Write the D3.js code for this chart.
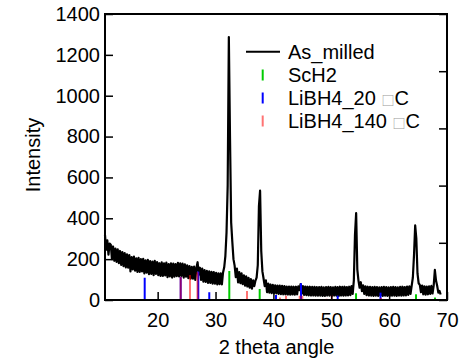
<!DOCTYPE html>
<html><head><meta charset="utf-8">
<script src="https://cdn.jsdelivr.net/npm/d3@7"></script>
<style>
body{margin:0;background:#fff}
text{font-family:"Liberation Sans",Arial,Helvetica,sans-serif}
</style>
</head><body>
<svg id="chart" width="470" height="363"></svg>
<script>
// ---- data ----
const scanStart = 10.9;   // 2theta of first count
const scanStep = 0.2;     // 2theta step
const counts = [
  318,246,292,222,276,   // 10.9
  270,200,262,192,252,   // 11.9
  186,248,180,240,172,   // 12.9
  234,166,230,160,224,   // 13.9
  158,220,140,210,150,   // 14.9
  212,144,204,138,206,   // 15.9
  138,200,140,202,130,   // 16.9
  194,134,196,126,190,   // 17.9
  128,188,122,192,128,   // 18.9
  186,122,180,118,184,   // 19.9
  118,180,120,183,112,   // 20.9
  176,116,180,110,178,   // 21.9
  114,176,117,182,116,   // 22.9
  180,118,178,110,174,   // 23.9
  114,170,107,166,105,   // 24.9
  162,104,164,98,158,    // 25.9
  185,124,158,98,154,    // 26.9
  90,146,89,143,84,      // 27.9
  140,84,138,80,136,     // 28.9
  80,133,76,131,78,      // 29.9
  130,77,135,160,215,    // 30.9
  330,560,1287,800,380,  // 31.9
  285,200,168,112,154,   // 32.9
  86,136,82,130,78,      // 33.9
  121,70,116,66,109,     // 34.9
  60,102,56,96,68,       // 35.9
  95,110,170,460,535,    // 36.9
  240,140,105,68,96,     // 37.9
  38,80,36,76,34,        // 38.9
  74,33,72,32,71,        // 39.9
  30,70,29,69,28,        // 40.9
  68,28,66,27,66,        // 41.9
  26,66,27,65,26,        // 42.9
  65,28,67,48,78,        // 43.9
  31,68,25,66,24,        // 44.9
  65,23,65,22,64,        // 45.9
  22,64,21,63,21,        // 46.9
  63,21,64,20,62,        // 47.9
  20,63,22,64,21,        // 48.9
  63,20,62,22,64,        // 49.9
  21,63,20,65,22,        // 50.9
  64,21,65,22,63,        // 51.9
  23,65,24,68,30,        // 52.9
  95,320,425,150,95,     // 53.9
  60,87,43,72,30,        // 54.9
  67,24,65,22,64,        // 55.9
  21,63,20,64,21,        // 56.9
  63,20,62,21,63,        // 57.9
  20,64,21,63,20,        // 58.9
  62,20,63,21,64,        // 59.9
  21,63,20,62,22,        // 60.9
  64,21,65,22,63,        // 61.9
  23,66,25,67,30,        // 62.9
  70,110,220,365,300,    // 63.9
  130,82,74,38,71,       // 64.9
  28,67,26,66,28,        // 65.9
  67,30,69,32,70,        // 66.9
  147,95,70,36,45,       // 67.9
  27                     // 68.9
];

const sch2Angles  = [32.38, 37.63, 54.28, 64.64, 67.93];
const sch2Heights = [142, 54, 33, 28, 12];

const li20Angles  = [17.76, 23.98, 27.02, 28.92, 40.45, 44.77, 51.11, 58.51];
const li20Heights = [109, 113, 139, 38, 24, 82, 21, 36];

const li140Angles  = [23.98, 25.59, 26.88, 35.44, 41.14, 42.18, 44.55, 45.0, 49.21, 50.08, 56.23, 58.6];
const li140Heights = [113, 122, 136, 44, 12, 21, 21, 21, 6, 24, 6, 10];

const xTickValues = [20, 30, 40, 50, 60, 70];
const yTickValues = [0, 200, 400, 600, 800, 1000, 1200, 1400];
const rightTickValues = [0, 20, 40, 60, 80, 100];

const legendNames = ["As_milled", "ScH2", "LiBH4_20", "LiBH4_140"];
const legendSuffix = ["", "", "C", "C"];

// ---- layout ----
const svg = d3.select("#chart");
const L = 105, R = 447, T = 14, B = 300;
const x = d3.scaleLinear().domain([10.9, 70]).range([L, R]);
const y = d3.scaleLinear().domain([0, 1400]).range([B, T]);
const y2 = d3.scaleLinear().domain([0, 100]).range([B, T]);
const FS = 20;

const pattern = counts.map((c, i) => [scanStart + scanStep * i, c]);

// data line
svg.append("path")
  .datum(pattern)
  .attr("fill", "none")
  .attr("stroke", "#000")
  .attr("stroke-width", 2.2)
  .attr("stroke-linejoin", "round")
  .attr("d", d3.line().x(d => x(d[0])).y(d => y(d[1])));

// sticks
function sticks(angles, heights, color, opacity) {
  svg.append("g").selectAll("line")
    .data(angles.map((a, i) => [a, heights[i]]))
    .join("line")
    .attr("x1", d => x(d[0])).attr("x2", d => x(d[0]))
    .attr("y1", y(0)).attr("y2", d => y(d[1]))
    .attr("stroke", color)
    .attr("stroke-opacity", opacity)
    .attr("stroke-width", 2);
}
sticks(sch2Angles, sch2Heights, "#00cc00", 1);
sticks(li20Angles, li20Heights, "#0000ff", 1);
sticks(li140Angles, li140Heights, "#ff0000", 0.55);

// axes
const gl = svg.append("g").attr("transform", `translate(${L},0)`)
  .call(d3.axisLeft(y).tickValues(yTickValues).tickFormat(d3.format("d"))
    .tickSizeInner(-8).tickSizeOuter(0).tickPadding(5));
const gb = svg.append("g").attr("transform", `translate(0,${B})`)
  .call(d3.axisBottom(x).tickValues(xTickValues).tickFormat(d3.format("d"))
    .tickSizeInner(-8).tickSizeOuter(0).tickPadding(13));
const gr = svg.append("g").attr("transform", `translate(${R},0)`)
  .call(d3.axisRight(y2).tickValues(rightTickValues).tickSizeInner(-8).tickSizeOuter(0).tickFormat(""));
[gl, gb, gr].forEach(g => {
  g.select(".domain").remove();
  g.selectAll("line").attr("stroke", "#000").attr("stroke-width", 1.5);
  g.selectAll("text").attr("font-size", FS).attr("fill", "#000")
    .attr("font-family", '"Liberation Sans",Arial,sans-serif');
});

// frame
svg.append("rect").attr("x", L).attr("y", T).attr("width", R - L).attr("height", B - T)
  .attr("fill", "none").attr("stroke", "#000").attr("stroke-width", 2);

// axis titles
svg.append("text").attr("x", (L + R) / 2 + 0.5).attr("y", 354).attr("text-anchor", "middle")
  .attr("font-size", FS).text("2 theta angle");
svg.append("text").attr("transform", "translate(39.5,155) rotate(-90)").attr("text-anchor", "middle")
  .attr("font-size", FS).text("Intensity");

// legend
const legColors = ["#000", "#00cc00", "#0000ff", "#ff0000"];
const legOpac = [1, 1, 1, 0.55];
const rowY = [51.7, 75, 98, 121];
legendNames.forEach((name, i) => {
  if (i === 0) {
    svg.append("line").attr("x1", 246).attr("x2", 280).attr("y1", rowY[i]).attr("y2", rowY[i])
      .attr("stroke", "#000").attr("stroke-width", 2);
  } else {
    svg.append("line").attr("x1", 262.7).attr("x2", 262.7)
      .attr("y1", rowY[i] - 5.5).attr("y2", rowY[i] + 5.5)
      .attr("stroke", legColors[i]).attr("stroke-opacity", legOpac[i]).attr("stroke-width", 2);
  }
  const t = svg.append("text").attr("x", 288).attr("y", rowY[i] + 7).attr("font-size", FS);
  t.append("tspan").text(name);
  if (legendSuffix[i]) {
    t.append("tspan").text(" ");
    t.append("tspan").attr("font-size", 13).attr("fill", "#999")
      .style("font-family", '"Noto Sans CJK SC","DejaVu Sans",sans-serif')
      .text("\u25A1\uFE0E");
    t.append("tspan").text(legendSuffix[i]);
  }
});
</script>
</body></html>
